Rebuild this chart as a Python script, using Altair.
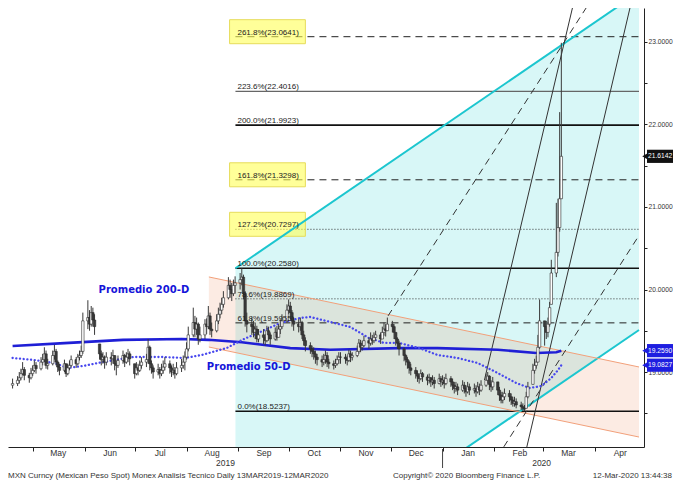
import altair as alt
import pandas as pd

# ---------------- daily OHLC, MXN per USD (weekdays 19-Apr-2019 .. 12-Mar-2020) ----------------
c_apr = [18.86, 18.90, 18.93, 18.98, 19.03, 18.96, 18.93, 18.98]
h_apr = [18.92, 18.95, 19.00, 19.04, 19.12, 19.06, 18.99, 19.05]
l_apr = [18.80, 18.83, 18.86, 18.90, 18.96, 18.90, 18.87, 18.91]

c_may = [19.02, 19.08, 19.04, 19.12, 19.15, 19.22, 19.08, 19.10, 19.20, 19.25, 19.12, 19.06, 19.02, 19.10, 18.98,
         19.05, 19.08, 19.15, 19.10, 19.18, 19.20, 19.25, 19.62]
h_may = [19.08, 19.14, 19.12, 19.18, 19.22, 19.30, 19.26, 19.16, 19.26, 19.33, 19.28, 19.14, 19.10, 19.15, 19.10,
         19.10, 19.14, 19.20, 19.18, 19.22, 19.26, 19.32, 19.72]
l_may = [18.95, 19.00, 18.98, 19.02, 19.08, 19.12, 19.04, 19.03, 19.08, 19.15, 19.08, 19.00, 18.96, 19.00, 18.94,
         18.96, 19.02, 19.06, 19.05, 19.08, 19.14, 19.17, 19.22]

c_jun = [19.66, 19.58, 19.72, 19.63, 19.55, 19.22, 19.15, 19.18, 19.12, 19.18, 19.16, 19.20, 19.10, 19.08, 19.14,
         19.20, 19.12, 19.18, 19.22, 19.16]
h_jun = [19.87, 19.75, 19.80, 19.78, 19.70, 19.34, 19.26, 19.24, 19.20, 19.24, 19.24, 19.27, 19.20, 19.14, 19.20,
         19.26, 19.22, 19.24, 19.28, 19.25]
l_jun = [19.52, 19.50, 19.55, 19.55, 19.45, 19.15, 19.08, 19.10, 19.04, 19.08, 19.08, 19.10, 19.02, 18.96, 19.05,
         19.10, 19.06, 19.10, 19.12, 19.08]

c_jul = [18.98, 19.05, 19.02, 19.08, 19.12, 19.15, 19.30, 19.10, 19.05, 19.00, 19.03, 18.98, 19.02, 19.06, 19.10,
         19.05, 19.00, 19.02, 18.98, 19.05, 19.08, 19.12, 19.18]
h_jul = [19.10, 19.12, 19.10, 19.14, 19.18, 19.22, 19.40, 19.32, 19.14, 19.08, 19.10, 19.06, 19.10, 19.14, 19.18,
         19.14, 19.08, 19.10, 19.06, 19.12, 19.16, 19.20, 19.25]
l_jul = [18.92, 18.96, 18.96, 19.00, 19.04, 19.06, 19.10, 19.02, 18.98, 18.92, 18.96, 18.92, 18.95, 18.98, 19.02,
         18.98, 18.94, 18.96, 18.92, 18.96, 19.00, 19.04, 19.02]

c_aug = [19.28, 19.45, 19.60, 19.52, 19.58, 19.40, 19.45, 19.58, 19.55, 19.68, 19.52, 19.50, 19.62, 19.70, 19.75,
         19.82, 19.90, 20.05, 20.00, 19.95, 20.05, 20.08]
h_aug = [19.36, 19.55, 19.78, 19.68, 19.66, 19.60, 19.55, 19.64, 19.65, 19.80, 19.72, 19.60, 19.70, 19.78, 19.84,
         19.90, 19.98, 20.15, 20.12, 20.08, 20.12, 20.16]
l_aug = [19.15, 19.25, 19.42, 19.42, 19.45, 19.33, 19.36, 19.40, 19.46, 19.52, 19.45, 19.42, 19.48, 19.58, 19.65,
         19.70, 19.78, 19.88, 19.90, 19.86, 19.92, 19.95]

c_sep = [20.12, 20.15, 19.95, 19.62, 19.58, 19.55, 19.48, 19.52, 19.40, 19.45, 19.42, 19.38, 19.50, 19.45, 19.40,
         19.48, 19.42, 19.52, 19.55, 19.62, 19.75]
h_sep = [20.20, 20.258, 20.18, 19.98, 19.72, 19.66, 19.62, 19.60, 19.56, 19.52, 19.52, 19.46, 19.56, 19.55, 19.48,
         19.54, 19.56, 19.58, 19.64, 19.70, 19.82]
l_sep = [20.00, 20.05, 19.88, 19.55, 19.48, 19.45, 19.42, 19.40, 19.36, 19.36, 19.34, 19.32, 19.36, 19.38, 19.33,
         19.38, 19.38, 19.42, 19.46, 19.52, 19.60]

c_oct = [19.80, 19.72, 19.62, 19.58, 19.55, 19.60, 19.45, 19.38, 19.32, 19.28, 19.25, 19.22, 19.18, 19.15, 19.12,
         19.15, 19.20, 19.12, 19.10, 19.08, 19.10, 19.15, 19.18]
h_oct = [19.88, 19.85, 19.75, 19.66, 19.64, 19.66, 19.62, 19.50, 19.42, 19.36, 19.32, 19.30, 19.26, 19.22, 19.20,
         19.22, 19.26, 19.24, 19.16, 19.14, 19.16, 19.20, 19.24]
l_oct = [19.70, 19.64, 19.55, 19.50, 19.48, 19.50, 19.40, 19.32, 19.25, 19.22, 19.18, 19.15, 19.10, 19.08, 19.06,
         19.08, 19.10, 19.06, 19.04, 19.03, 19.05, 19.08, 19.10]

c_nov = [19.18, 19.16, 19.14, 19.22, 19.18, 19.20, 19.25, 19.35, 19.30, 19.32, 19.38, 19.35, 19.40, 19.38, 19.42,
         19.45, 19.40, 19.48, 19.52, 19.50, 19.58]
h_nov = [19.24, 19.22, 19.20, 19.27, 19.26, 19.24, 19.32, 19.40, 19.39, 19.38, 19.44, 19.42, 19.48, 19.45, 19.48,
         19.50, 19.48, 19.55, 19.60, 19.58, 19.66]
l_nov = [19.10, 19.10, 19.08, 19.12, 19.12, 19.14, 19.18, 19.22, 19.24, 19.26, 19.30, 19.28, 19.32, 19.33, 19.35,
         19.38, 19.34, 19.40, 19.44, 19.43, 19.50]

c_dec = [19.55, 19.48, 19.40, 19.35, 19.28, 19.20, 19.15, 19.12, 19.05, 19.02, 18.98, 18.95, 18.92, 18.98, 18.94,
         18.90, 18.93, 18.88, 18.90, 18.86, 18.92, 18.88]
h_dec = [19.62, 19.58, 19.48, 19.42, 19.38, 19.30, 19.22, 19.18, 19.14, 19.10, 19.06, 19.02, 18.98, 19.03, 19.00,
         18.97, 18.98, 18.94, 18.96, 18.94, 18.98, 18.95]
l_dec = [19.48, 19.40, 19.32, 19.28, 19.20, 19.13, 19.08, 19.04, 18.98, 18.96, 18.92, 18.88, 18.86, 18.90, 18.88,
         18.84, 18.86, 18.82, 18.84, 18.80, 18.85, 18.82]

c_jan = [18.90, 18.86, 18.92, 18.88, 18.84, 18.80, 18.82, 18.78, 18.84, 18.80, 18.76, 18.82, 18.78, 18.80, 18.76,
         18.82, 18.78, 18.84, 18.90, 18.95, 18.85, 18.82, 18.88]
h_jan = [18.96, 18.94, 18.98, 18.95, 18.92, 18.88, 18.88, 18.86, 18.90, 18.88, 18.84, 18.88, 18.86, 18.86, 18.84,
         18.88, 18.86, 18.90, 18.98, 19.00, 18.96, 18.90, 18.94]
l_jan = [18.84, 18.80, 18.84, 18.82, 18.78, 18.74, 18.76, 18.72, 18.76, 18.74, 18.70, 18.74, 18.72, 18.74, 18.70,
         18.74, 18.72, 18.76, 18.82, 18.86, 18.78, 18.76, 18.78]

c_feb = [18.78, 18.72, 18.66, 18.70, 18.74, 18.70, 18.66, 18.62, 18.64, 18.60, 18.58, 18.56, 18.55, 18.70, 18.82,
         19.02, 19.08, 19.12, 19.30, 19.62]
h_feb = [18.88, 18.82, 18.76, 18.76, 18.80, 18.78, 18.74, 18.70, 18.70, 18.68, 18.64, 18.62, 18.60, 18.76, 18.88,
         19.10, 19.16, 19.20, 19.45, 19.88]
l_feb = [18.72, 18.65, 18.62, 18.62, 18.66, 18.64, 18.60, 18.58, 18.58, 18.56, 18.54, 18.53, 18.5237, 18.56, 18.68,
         18.85, 18.98, 19.04, 19.12, 19.28]

c_mar = [19.55, 19.48, 19.58, 19.78, 20.20, 20.45, 20.75, 21.10, 21.6142]
h_mar = [19.62, 19.62, 19.66, 19.85, 20.36, 21.05, 21.10, 22.15, 22.99]
l_mar = [19.32, 19.40, 19.42, 19.55, 19.82, 20.15, 20.40, 20.70, 21.10]

closes = c_apr + c_may + c_jun + c_jul + c_aug + c_sep + c_oct + c_nov + c_dec + c_jan + c_feb + c_mar
highs = h_apr + h_may + h_jun + h_jul + h_aug + h_sep + h_oct + h_nov + h_dec + h_jan + h_feb + h_mar
lows = l_apr + l_may + l_jun + l_jul + l_aug + l_sep + l_oct + l_nov + l_dec + l_jan + l_feb + l_mar
first_open = 18.84

# ---------------- moving averages ----------------
ma200_dates = ["2019-04-19", "2019-05-20", "2019-06-24", "2019-07-29", "2019-08-14", "2019-09-03", "2019-10-02",
               "2019-10-26", "2019-12-06", "2019-12-29", "2020-02-03", "2020-02-26", "2020-03-09", "2020-03-12"]
ma200_vals = [19.315, 19.35, 19.39, 19.40, 19.39, 19.36, 19.29, 19.27, 19.29, 19.29, 19.27, 19.23, 19.24, 19.259]

ma50_dates = ["2019-04-19", "2019-05-02", "2019-05-14", "2019-05-22", "2019-05-31", "2019-06-12", "2019-06-30",
              "2019-07-17", "2019-07-31", "2019-08-10", "2019-08-25", "2019-09-03", "2019-09-14", "2019-09-26",
              "2019-10-08", "2019-10-14", "2019-10-26", "2019-11-07", "2019-11-18", "2019-11-27", "2019-12-06",
              "2019-12-18", "2019-12-29", "2020-01-10", "2020-01-22", "2020-02-03", "2020-02-14", "2020-02-22",
              "2020-02-29", "2020-03-06", "2020-03-10", "2020-03-12"]
ma50_vals = [19.170, 19.145, 19.109, 19.048, 19.073, 19.121, 19.182, 19.182, 19.170, 19.206, 19.291, 19.388,
             19.485, 19.594, 19.655, 19.667, 19.606, 19.545, 19.412, 19.352, 19.352, 19.291, 19.206, 19.170,
             19.109, 18.988, 18.867, 18.806, 18.830, 18.927, 19.024, 19.0827]

# ---------------- Fibonacci extension levels ----------------
fib_pct = ["0.0%", "61.8%", "78.6%", "100.0%", "127.2%", "161.8%", "200.0%", "223.6%", "261.8%"]
fib_val = [18.5237, 19.5955, 19.8869, 20.2580, 20.7297, 21.3298, 21.9923, 22.4016, 23.0641]
fib_kind = ["solid", "dashed", "dotted", "solid", "dotted", "dashed", "solid", "grey", "dashed"]
fib_boxed = ["127.2%", "161.8%", "261.8%"]
fib_start = "2019-08-30T05:00"
fib_label_at = "2019-08-31T10:00"

# ---------------- channels and trend lines (endpoints in date / value) ----------------
cyan_x = ["2019-08-30T05:00", "2020-04-27T10:00"]
cyan_top = [20.258, 23.604]
cyan_bot = [16.170, 19.509]
peach_x = ["2019-08-14T08:00", "2020-04-27T10:00"]
peach_top = [20.152, 19.061]
peach_bot = [19.303, 18.212]

dashed_ids = ["d1", "d1", "d2", "d2"]
dashed_x = ["2019-11-29T10:00", "2020-04-02T17:00", "2020-01-29T21:00", "2020-04-27T10:00"]
dashed_v = [19.68, 23.63, 17.848, 20.655]
steep_ids = ["a", "a", "b", "b"]
steep_x = ["2020-01-26T01:00", "2020-03-21T04:00", "2020-02-17T13:00", "2020-04-24T13:00"]
steep_v = [18.903, 23.63, 17.848, 23.63]

# right-hand value tags
tag_vals = [21.6142, 19.2590, 19.0827]
tag_cols = ["#111111", "#1e1ee0", "#1e1ee0"]

month_ticks = [(2019, m) for m in range(5, 13)] + [(2020, m) for m in range(1, 5)]
y_ticks = [18.5, 19.0, 19.5, 20.0, 20.5, 21.0, 21.5, 22.0, 22.5, 23.0]

# ---------------- build ----------------
W, H = 636, 439
TOTAL_W = 665
FONT = "Liberation Sans"
xs = alt.Scale(domain=[alt.DateTime(year=2019, month=4, date=19, hours=6),
                       alt.DateTime(year=2020, month=4, date=27, hours=10)])
ys = alt.Scale(domain=[18.091, 23.412], nice=False, zero=False)
xaxis = alt.Axis(title=None, values=[alt.DateTime(year=y, month=m, date=1) for y, m in month_ticks],
                 format="%b", labelOffset=25, labelFlush=False, labelOverlap=False, tickSize=4,
                 labelPadding=-3, labelFont=FONT, labelFontSize=8.5, labelColor="#333333",
                 domainColor="#222222", tickColor="#222222", grid=False)
yaxis = alt.Axis(title=None, orient="right", values=y_ticks,
                 labelExpr="datum.value % 1 == 0 ? format(datum.value, '.4f') : ''",
                 tickSize=3, labelPadding=1, labelFont=FONT, labelFontSize=6.7, labelColor="#333333",
                 domainColor="#222222", tickColor="#222222", grid=False)


def X(f):
    return alt.X(f, type="temporal", scale=xs, axis=xaxis)


def Y(f):
    return alt.Y(f, type="quantitative", scale=ys, axis=yaxis)


opens = []
prev = first_open
for c, h, l in zip(closes, highs, lows):
    opens.append(min(max(prev, l), h))
    prev = c
candles = pd.DataFrame({"date": pd.bdate_range("2019-04-19", periods=len(closes)),
                        "open": opens, "high": highs, "low": lows, "close": closes})

cyan_df = pd.DataFrame({"x": pd.to_datetime(cyan_x), "lo": cyan_bot, "hi": cyan_top})
peach_df = pd.DataFrame({"x": pd.to_datetime(peach_x), "lo": peach_bot, "hi": peach_top})

cyan_area = alt.Chart(cyan_df).mark_area(color="#d8f7f7", clip=True).encode(x=X("x"), y=Y("lo"), y2="hi")
peach_area = alt.Chart(peach_df).mark_area(color="#f0875a", opacity=0.17, clip=True).encode(
    x=X("x"), y=Y("lo"), y2="hi")


def lines_df(ids, xs_, vs):
    return pd.DataFrame({"id": ids, "x": pd.to_datetime(xs_), "v": vs})


cyan_lines = lines_df(["u", "u", "l", "l"], cyan_x * 2, [cyan_top[0], cyan_top[1], cyan_bot[0], cyan_bot[1]])
peach_lines = lines_df(["u", "u", "l", "l"], peach_x * 2, [peach_top[0], peach_top[1], peach_bot[0], peach_bot[1]])


def seg(df, color, width, dash=None):
    kw = dict(color=color, strokeWidth=width, clip=True)
    if dash:
        kw["strokeDash"] = dash
    return alt.Chart(df).mark_line(**kw).encode(x=X("x"), y=Y("v"), detail="id:N")


layers = [cyan_area, peach_area]

# fib lines
fib_df = pd.DataFrame({"pct": fib_pct, "v": fib_val, "kind": fib_kind})
fib_df["x0"] = pd.Timestamp(fib_start)
fib_df["x1"] = pd.Timestamp("2020-04-27T10:00")
fib_df["xl"] = pd.Timestamp(fib_label_at)
fib_df["label"] = [f"{p}({v:.4f})" for p, v in zip(fib_pct, fib_val)]
styles = {"solid": ("#111111", 1.6, None), "dashed": ("#222222", 1.0, [7, 5]),
          "dotted": ("#333333", 1.0, [1, 2]), "grey": ("#666666", 1.2, None)}
for kind, (col, wd, dash) in styles.items():
    kw = dict(color=col, strokeWidth=wd)
    if dash:
        kw["strokeDash"] = dash
    layers.append(alt.Chart(fib_df[fib_df.kind == kind]).mark_rule(**kw).encode(
        x=X("x0"), x2="x1", y=Y("v")))

# yellow label boxes
box_df = fib_df[fib_df.pct.isin(fib_boxed)].copy()
box_df["bx0"] = pd.Timestamp("2019-08-26T17:00")
box_df["bx1"] = pd.Timestamp("2019-10-11T00:00")
box_df["top"] = box_df.v + 17 / 82.5
box_df["bot"] = box_df.v - 7 / 82.5
layers.append(alt.Chart(box_df).mark_rect(fill="#ffff55", fillOpacity=0.6, stroke="#e6dc5a",
                                          strokeWidth=1).encode(x=X("bx0"), x2="bx1", y=Y("bot"), y2="top"))

layers += [
    seg(cyan_lines, "#1cc6cf", 2.0),
    seg(peach_lines, "#f2a07a", 1.0),
    seg(lines_df(dashed_ids, dashed_x, dashed_v), "#333333", 1.0, [7, 5]),
    seg(lines_df(steep_ids, steep_x, steep_v), "#333333", 1.0),
]

# moving averages
ma200 = pd.DataFrame({"x": pd.to_datetime(ma200_dates), "v": ma200_vals, "id": "200"})
ma50 = pd.DataFrame({"x": pd.to_datetime(ma50_dates), "v": ma50_vals, "id": "50"})
layers.append(alt.Chart(ma200).mark_line(color="#1f1fd6", strokeWidth=2.6, clip=True).encode(
    x=X("x"), y=Y("v")))
layers.append(alt.Chart(ma50).mark_line(color="#4848ee", strokeWidth=2.3, strokeDash=[0.1, 3.6],
                                        strokeCap="round", clip=True).encode(x=X("x"), y=Y("v")))

# candles
layers.append(alt.Chart(candles).mark_rule(color="#3a3a3a", strokeWidth=1, clip=True).encode(
    x=X("date"), y=Y("low"), y2="high"))
layers.append(alt.Chart(candles).mark_bar(size=2.4, stroke="#2a2a2a", strokeWidth=0.6, clip=True).encode(
    x=X("date"), y=Y("open"), y2="close",
    fill=alt.condition("datum.close >= datum.open", alt.value("#ffffff"), alt.value("#3a3a3a"))))

# fib labels
layers.append(alt.Chart(fib_df).mark_text(align="left", baseline="alphabetic", dy=-2, font=FONT,
                                          fontSize=8, color="#222222").encode(
    x=X("xl"), y=Y("v"), text="label:N"))

# MA labels
ma_lab = pd.DataFrame({"x": pd.to_datetime(["2019-06-09T10:00", "2019-08-13T03:00"]),
                       "v": [19.994, 19.061], "t": ["Promedio 200-D", "Promedio 50-D"]})
layers.append(alt.Chart(ma_lab).mark_text(align="left", baseline="middle", font="DejaVu Sans",
                                          fontWeight="bold", fontSize=10, color="#1515d9").encode(
    x=X("x"), y=Y("v"), text="t:N"))

# right value tags
tags = pd.DataFrame({"v": tag_vals, "c": tag_cols, "lab": [f"{v:.4f}" for v in tag_vals]})
tags["top"] = tags.v + 0.08
tags["bot"] = tags.v - 0.08
layers.append(alt.Chart(tags).mark_rect().encode(
    x=alt.value(639), x2=alt.value(TOTAL_W), y=Y("bot"), y2="top", color=alt.Color("c:N", scale=None)))
layers.append(alt.Chart(tags).mark_point(shape="triangle-left", filled=True, size=40, opacity=1).encode(
    x=alt.value(637), y=Y("v"), color=alt.Color("c:N", scale=None)))
layers.append(alt.Chart(tags).mark_text(color="white", font=FONT, fontSize=6.7, align="left",
                                        baseline="middle").encode(
    x=alt.value(640), y=Y("v"), text="lab:N"))

# year labels + divider
layers.append(alt.Chart(pd.DataFrame({"d": [pd.Timestamp("2020-01-01")]})).mark_rule(
    color="#444444", strokeWidth=1).encode(x=X("d"), y=alt.value(441), y2=alt.value(460)))
years = pd.DataFrame({"d": pd.to_datetime(["2019-08-24T07:00", "2020-02-29T05:00"]), "t": ["2019", "2020"]})
layers.append(alt.Chart(years).mark_text(font=FONT, fontSize=8.5, color="#333333", baseline="middle").encode(
    x=X("d"), y=alt.value(455), text="t:N"))

# footer
foot = pd.DataFrame({"t": ["MXN Curncy (Mexican Peso Spot) Monex Analisis Tecnico  Daily 13MAR2019-12MAR2020",
                           "Copyright\u00a9 2020 Bloomberg Finance L.P.", "12-Mar-2020 13:44:38"],
                     "px": [0, 385, TOTAL_W - 1], "al": ["left", "left", "right"]})
for _, r in foot.iterrows():
    layers.append(alt.Chart(pd.DataFrame({"t": [r.t]})).mark_text(
        align=r.al, baseline="middle", font=FONT, fontSize=8, color="#333333").encode(
        x=alt.value(int(r.px)), y=alt.value(468), text="t:N"))

chart = alt.layer(*layers).properties(
    width=W, height=H,
    autosize=alt.AutoSizeParams(type="none"),
    padding={"left": 0, "top": 0, "right": TOTAL_W - W, "bottom": 36},
    background="white",
).configure_view(stroke=None)

chart.save("out.html", embed_options={"renderer": "svg", "actions": False})
